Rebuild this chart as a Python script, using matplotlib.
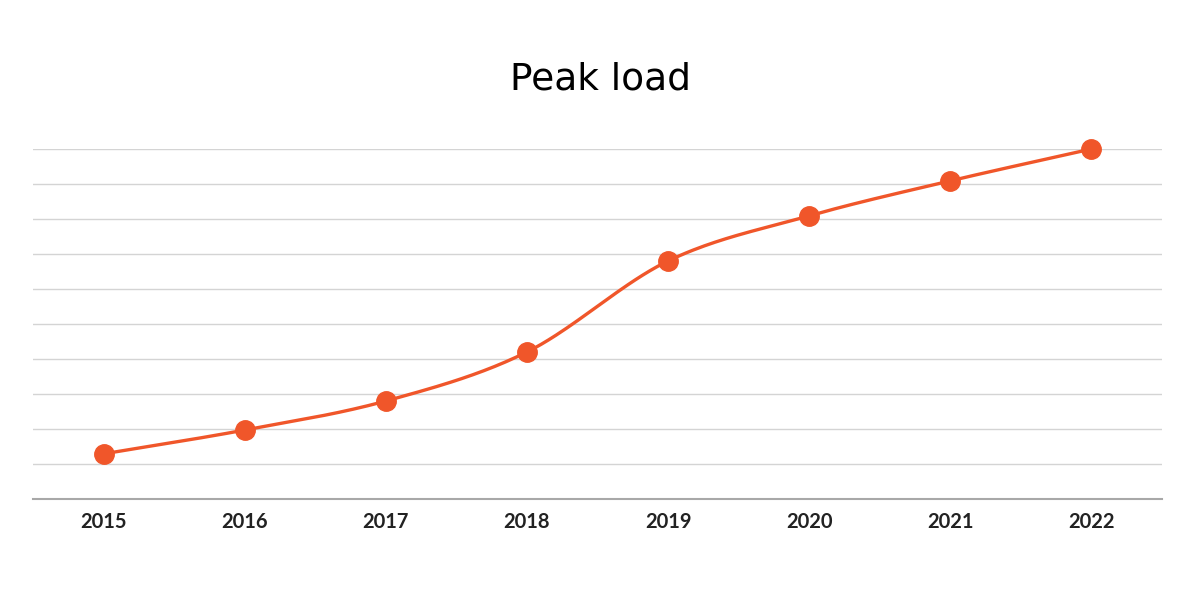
import matplotlib
matplotlib.use('Agg')
import matplotlib.pyplot as plt
import numpy as np

# --- DATA ---
years = ['2015', '2016', '2017', '2018', '2019', '2020', '2021', '2022']
peak_load = [1.29, 1.97, 2.8, 4.2, 6.8, 8.09, 9.09, 10.0]

LINE_COLOR = '#F0562A'


def smooth_curve(xs, ys, steps=40):
    """Catmull-Rom style curve through the points (display only)."""
    xs = np.asarray(xs, float)
    ys = np.asarray(ys, float)
    px = np.concatenate([[2 * xs[0] - xs[1]], xs, [2 * xs[-1] - xs[-2]]])
    py = np.concatenate([[2 * ys[0] - ys[1]], ys, [2 * ys[-1] - ys[-2]]])
    out_x, out_y = [], []
    t = np.linspace(0, 1, steps)
    for i in range(1, len(px) - 2):
        for arr, out in ((px, out_x), (py, out_y)):
            p0, p1, p2, p3 = arr[i - 1], arr[i], arr[i + 1], arr[i + 2]
            out.extend(0.5 * (2 * p1 + (-p0 + p2) * t
                              + (2 * p0 - 5 * p1 + 4 * p2 - p3) * t ** 2
                              + (-p0 + 3 * p1 - 3 * p2 + p3) * t ** 3))
    return np.array(out_x), np.array(out_y)


plt.rcParams['font.family'] = ['Lato', 'DejaVu Sans']

fig = plt.figure(figsize=(12, 6), dpi=100)
ax = fig.add_axes([0.0275, 1 - 499 / 600, 0.9408, 350 / 600])

x = np.arange(len(years))
cx, cy = smooth_curve(x, peak_load)
ax.plot(cx, cy, color=LINE_COLOR, linewidth=2.4, clip_on=False, zorder=3)
ax.plot(x, peak_load, 'o', color=LINE_COLOR, markersize=14, clip_on=False, zorder=4)

ax.set_xlim(-0.5, 7.5)
ax.set_ylim(0, 10)
ax.set_yticks(np.arange(0, 11, 1))
ax.set_yticklabels([])
ax.tick_params(axis='y', length=0)
ax.grid(axis='y', color='#d4d4d4', linewidth=1)
ax.set_axisbelow(True)

ax.set_xticks(x)
ax.set_xticklabels(years, fontsize=14.5, fontweight='bold', color='#222222')
ax.tick_params(axis='x', length=0, pad=9)

for side in ['top', 'right', 'left']:
    ax.spines[side].set_visible(False)
ax.spines['bottom'].set_color('#a8a8a8')
ax.spines['bottom'].set_linewidth(1.5)

fig.text(0.5, 1 - 79 / 600, 'Peak load', ha='center', va='center', fontsize=27,
         color='black', family=['DejaVu Sans'])

fig.savefig('out.png', dpi=100)
